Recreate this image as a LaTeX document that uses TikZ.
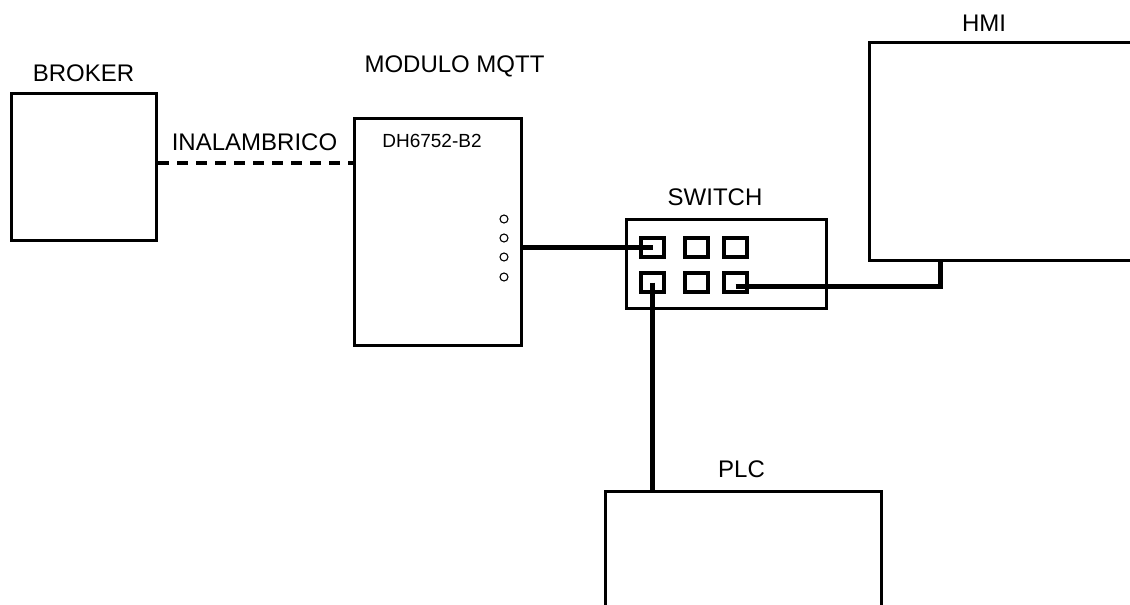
\documentclass[tikz,border=0pt]{standalone}
\usepackage{fontspec}
\setmainfont{Liberation Sans}
\begin{document}
\begin{tikzpicture}[x=1pt,y=-1pt,
  box/.style={draw,line width=3.3pt,rectangle,inner sep=0pt,fill=white},
  port/.style={draw,line width=3.1pt,rectangle,inner sep=0pt,minimum width=23pt,minimum height=19pt},
  led/.style={draw,line width=1.1pt,circle,inner sep=0pt,minimum size=8pt},
  lbl/.style={anchor=base,inner sep=0pt,font=\fontsize{24}{28}\selectfont},
  cable/.style={line width=5pt},
  wifi/.style={line width=4.2pt,dash pattern=on 11pt off 8pt}]
\useasboundingbox (0,0) rectangle (1130,605);
\clip (0,0) rectangle (1130,605);
\fill[white] (0,0) rectangle (1130,605);
% boxes
\node[box,minimum width=145pt,minimum height=147pt] (broker) at (84,167) {};
\node[box,minimum width=167pt,minimum height=227pt] (mod) at (438,232) {};
\node[box,minimum width=200pt,minimum height=89pt] (sw) at (726.5,264) {};
\node[box,minimum width=269pt,minimum height=218pt] (hmi) at (1004,151.5) {};
\node[box,minimum width=276pt,minimum height=130pt] (plc) at (743.5,556.5) {};
% labels
\node[lbl] (lbroker) at (83.5,81) {BROKER};
\node[lbl] (lmod) at (454.5,72) {MODULO MQTT};
\node[lbl] (lwifi) at (254.5,150) {INALAMBRICO};
\node[lbl] (lsw) at (715,205) {SWITCH};
\node[lbl] (lhmi) at (984,31) {HMI};
\node[lbl] (lplc) at (741.5,477) {PLC};
\node[anchor=base,inner sep=0pt,font=\fontsize{19}{22}\selectfont] (lmodel) at (432,147) {DH6752-B2};
% leds
\node[led] (led1) at (504,219) {};
\node[led] (led2) at (504,238) {};
\node[led] (led3) at (504,257) {};
\node[led] (led4) at (504,277) {};
% switch ports
\node[port] (p1) at (652.5,247.5) {};
\node[port] (p2) at (696.5,247.5) {};
\node[port] (p3) at (735.5,247.5) {};
\node[port] (p4) at (652.5,282.5) {};
\node[port] (p5) at (696.5,282.5) {};
\node[port] (p6) at (735.5,282.5) {};
\coordinate (hmiport) at (940,262);
% connectors
\draw[wifi] ([yshift=4pt]broker.east) -- ([yshift=4pt]broker.east -| mod.west);
\draw[cable] (mod.east |- p1.center) -- (p1.center);
\draw[cable] (p4.center) -- (p4.center |- plc.north);
\draw[cable] ([yshift=-3.5pt]p6.center) -| (hmiport);
\end{tikzpicture}
\end{document}
